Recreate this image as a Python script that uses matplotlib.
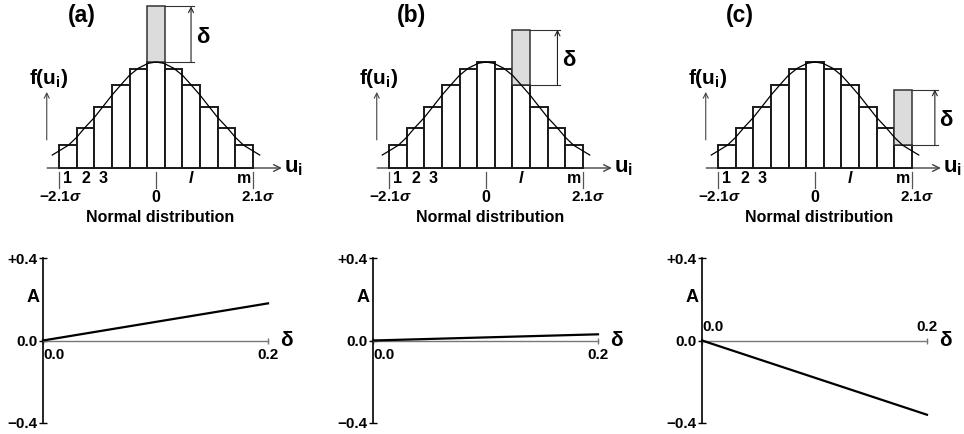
import matplotlib
matplotlib.use("Agg")
import matplotlib.pyplot as plt

plt.rcParams['font.family'] = ['Liberation Sans', 'DejaVu Sans']
plt.rcParams['font.weight'] = 'bold'
plt.rcParams['mathtext.fontset'] = 'custom'
plt.rcParams['mathtext.rm'] = 'Liberation Sans:bold'
plt.rcParams['mathtext.it'] = 'Liberation Sans:italic'
plt.rcParams['mathtext.bf'] = 'Liberation Sans:bold'

# histogram of the normal distribution, 11 classes from -2.1 sigma to 2.1 sigma
u_lo, u_hi = -2.1, 2.1
bar_heights = [0.086, 0.151, 0.230, 0.312, 0.375, 0.400, 0.375, 0.312, 0.230, 0.151, 0.086]
class_labels = ['1', '2', '3', '', '', '', '', '$\\it{l}$', '', '', 'm']
delta_show = 0.21

# smooth normal curve
curve_u = [-2.25, -2.05, -1.90, -1.72, -1.54, -1.34, -1.14, -0.96, -0.74, -0.58, -0.38, -0.17, 0.0,
           0.17, 0.38, 0.58, 0.74, 0.96, 1.14, 1.34, 1.54, 1.72, 1.90, 2.05, 2.25]
curve_f = [0.049, 0.070, 0.086, 0.116, 0.153, 0.190, 0.234, 0.274, 0.318, 0.349, 0.377, 0.395, 0.400,
           0.395, 0.377, 0.349, 0.318, 0.274, 0.234, 0.190, 0.153, 0.116, 0.086, 0.070, 0.049]

panels = ['(a)', '(b)', '(c)']
gray_bar = [5, 7, 10]          # which class gets the extra delta
delta_x = [0.0, 0.2]
A_end = [0.18, 0.03, -0.36]    # A at delta = 0.2

# layout (pixels)
W, H = 964, 434
offsets = [0, 330, 659]
arrow_x = [0.76, 1.55, 2.60]
px_u = 46.1
px_f = 1 / 0.003774

fig = plt.figure(figsize=(W / 100, H / 100), dpi=100)

n = len(bar_heights)
w = (u_hi - u_lo) / n
centers = [u_lo + w * (i + 0.5) for i in range(n)]

for k in range(3):
    dx = offsets[k]
    # top panel: box 320x230 px, u=0 at x=156+dx, f=0 at y=168
    ax = fig.add_axes([dx / W, 1 - 230 / H, 320 / W, 230 / H])
    ax.set_xlim(-156 / px_u, 164 / px_u)
    ax.set_ylim(-62 / px_f, 168 / px_f)
    ax.axis('off')

    ax.bar(centers, bar_heights, width=w, color='white', edgecolor='#1a1a1a', lw=1.4, zorder=2)
    g = gray_bar[k]
    ax.bar(centers[g], delta_show, width=w, bottom=bar_heights[g], color='#dcdcdc',
           edgecolor='#333333', lw=1.1, zorder=2)
    ax.plot(curve_u, curve_f, color='black', lw=0.9, zorder=3)

    # delta dimension arrow
    right = centers[g] + w / 2
    top = bar_heights[g] + delta_show
    ax.plot([right, arrow_x[k] + 0.06], [top, top], color='#333333', lw=0.8)
    ax.plot([right, arrow_x[k] + 0.06], [bar_heights[g]] * 2, color='#333333', lw=0.8)
    ax.annotate('', xy=(arrow_x[k], top), xytext=(arrow_x[k], bar_heights[g]),
                arrowprops=dict(arrowstyle='->', color='#222222', lw=0.8, shrinkA=0, shrinkB=0,
                                mutation_scale=9))
    ax.text(arrow_x[k] + 0.10, bar_heights[g] + delta_show / 2 - 0.012, 'δ', fontsize=16,
            ha='left', va='center')

    # u axis
    ax.annotate('', xy=(2.73, 0), xytext=(-2.36, 0),
                arrowprops=dict(arrowstyle='->', color='#444444', lw=1.0, shrinkA=0, shrinkB=0,
                                mutation_scale=12), zorder=1)
    ax.text(2.78, 0.0, 'u$_{\\mathbf{i}}$', fontsize=16, ha='left', va='center')

    # f(u_i) label and arrow
    ax.text(-2.32, 0.336, 'f(u$_{\\mathbf{i}}$)', fontsize=15, ha='center', va='center')
    ax.annotate('', xy=(-2.37, 0.287), xytext=(-2.37, 0.106),
                arrowprops=dict(arrowstyle='->', color='#444444', lw=0.8, shrinkA=0, shrinkB=0,
                                mutation_scale=9))

    # ticks under the axis
    for t in [u_lo, 0.0, u_hi]:
        ax.plot([t, t], [-0.015, -0.074], color='#555555', lw=0.9)
    for i, lab in enumerate(class_labels):
        if lab:
            ax.text(centers[i], -0.038, lab, fontsize=11.5, ha='center', va='center')
    ax.text(-2.07, -0.111, '−2.1$\\sigma$', fontsize=11, ha='center', va='center')
    ax.text(0.0, -0.111, '0', fontsize=11.5, ha='center', va='center')
    ax.text(2.21, -0.111, '2.1$\\sigma$', fontsize=11, ha='center', va='center')
    ax.text(0.1, -0.186, 'Normal distribution', fontsize=11.5, ha='center', va='center')
    ax.text(-1.62, 0.577, panels[k], fontsize=16.5, ha='center', va='center')

    # bottom panel: A versus delta
    bx = fig.add_axes([(43 + dx) / W, 1 - 423 / H, 225 / W, 165 / H])
    bx.patch.set_visible(False)
    bx.set_xlim(0, 0.2)
    bx.set_ylim(-0.4, 0.4)
    bx.plot(delta_x, [0.0, A_end[k]], color='black', lw=1.6, clip_on=False, zorder=3)
    bx.spines['right'].set_visible(False)
    bx.spines['left'].set_color('black')
    bx.spines['left'].set_linewidth(1.2)
    if A_end[k] >= 0:
        side, other = 'bottom', 'top'
    else:
        side, other = 'top', 'bottom'
    bx.spines[other].set_visible(False)
    bx.spines[side].set_position(('data', 0))
    bx.spines[side].set_color('#777777')
    bx.spines[side].set_linewidth(1.0)
    bx.xaxis.set_ticks_position(side)
    bx.set_yticks([-0.4, 0.0, 0.4], labels=['−0.4', '0.0', '+0.4'])
    bx.set_xticks([0.0, 0.2], labels=['0.0', '0.2'])
    bx.tick_params(axis='y', direction='inout', length=6, width=1.0, pad=1, labelsize=11)
    bx.tick_params(axis='x', direction='inout', length=5, width=1.0, color='#777777',
                   pad=3 if side == 'bottom' else 2, labelsize=11)
    bx.get_xticklabels()[0].set_ha('left')
    bx.text(-0.009, 0.21, 'A', fontsize=13, ha='center', va='center')
    bx.text(0.2107, 0.0, 'δ', fontsize=15, ha='left', va='center')

fig.savefig('out.png', dpi=100)
